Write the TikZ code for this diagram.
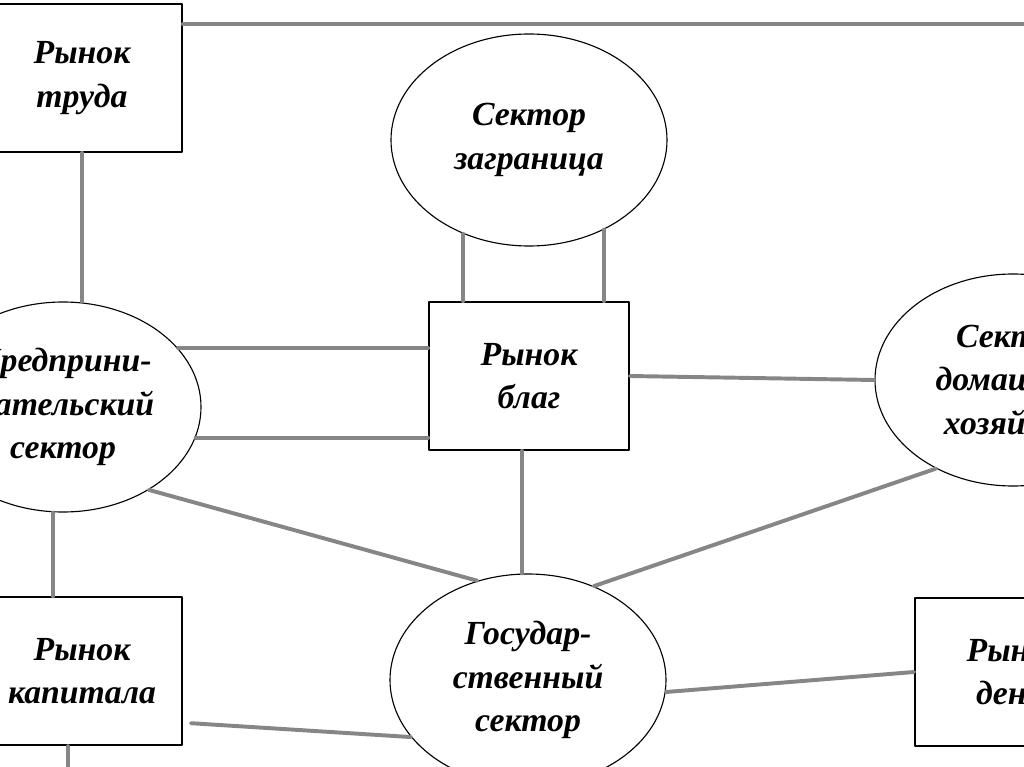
\documentclass[tikz,border=0pt]{standalone}
\usepackage{fontspec}
\setmainfont{Liberation Serif}
\usetikzlibrary{shapes.geometric}
\begin{document}
\begin{tikzpicture}[line cap=round,line join=round,x=1.0cm,y=1.0cm,
    market/.style={draw=black,line width=1.3pt,fill=white,rectangle,minimum width=5cm,minimum height=3.7cm,align=center,font=\fontsize{24}{31}\selectfont\bfseries\itshape},
    sector/.style={draw=black,line width=0.8pt,fill=white,ellipse,inner sep=0pt,minimum width=6.9cm,minimum height=5.3cm,align=center,font=\fontsize{24}{31}\selectfont\bfseries\itshape},
    link/.style={color=gray!95,line width=2.8pt}]
    \useasboundingbox (0,0) rectangle (25.6,-19.175);
    \clip (0,0) rectangle (25.6,-19.175);
    \node[market] (labour) at (2.05,-1.95) {Рынок\\труда};
    \node[market] (goods) at (13.225,-9.4) {Рынок\\благ};
    \node[market] (capital) at (2.05,-16.78) {Рынок\\капитала};
    \node[market] (money) at (25.375,-16.8) {Рынок\\денег};
    \node[sector] (abroad) at (13.225,-3.5) {Сектор\\заграница};
    \node[sector,minimum height=5.25cm] (firms) at (1.575,-10.175) {Предприни-\\мательский\\сектор};
    \node[sector] (house) at (25.325,-9.5) {Сектор\\домашних\\хозяйств};
    \node[sector] (state) at (13.2,-17.0) {Государ-\\ственный\\сектор};
    \coordinate (topend) at (25.6,-0.625);
    \coordinate (downend) at (1.7,-19.2);
    \draw[link] ([yshift=-0.525cm]labour.north east) -- ([yshift=-0.525cm]labour.north east -| topend);
    \draw[link] (labour.south) -- (labour.south |- firms.north);
    \draw[link] ([xshift=-0.25cm]firms.south) -- ([xshift=-0.25cm]firms.south |- capital.north);
    \draw[link] ([xshift=-0.35cm]capital.south) -- ([xshift=-0.35cm]capital.south |- downend);
    \draw[link] (firms.27) -- (firms.27 -| goods.west);
    \draw[link] (firms.-13) -- (firms.-13 -| goods.west);
    \draw[link] (abroad.235) -- (abroad.235 |- goods.north);
    \draw[link] (abroad.310) -- (abroad.310 |- goods.north);
    \draw[link] (goods.east) -- (house.west);
    \draw[link] ([xshift=-0.175cm]goods.south) -- ([xshift=-0.175cm]goods.south |- state.north);
    \draw[link] (firms.-44) -- (state.117);
    \draw[link] (house.229) -- (state.55);
    \draw[link] (state.-5) -- (money.west);
    \draw[link] ([xshift=0.2cm,yshift=-1.3cm]capital.east) -- (state.206);
\end{tikzpicture}
\end{document}
